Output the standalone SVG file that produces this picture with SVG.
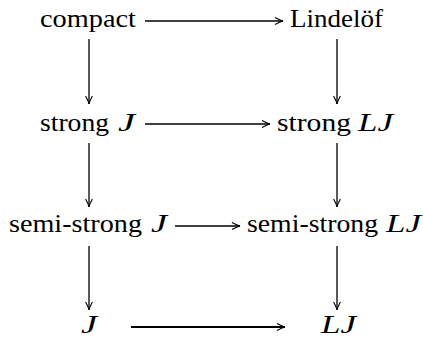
<svg xmlns="http://www.w3.org/2000/svg" width="423" height="338" viewBox="0 0 423 338">
  <style>
    text { font-family: "Liberation Serif", "Times New Roman", Times, serif; font-size: 26px; fill: #000; }
    .it { font-style: italic; }
    .edge { stroke: #000; stroke-width: 1.3; fill: none; marker-end: url(#arr); }
    .thick { stroke-width: 2; }
  </style>
  <defs>
    <marker id="arr" markerUnits="userSpaceOnUse" markerWidth="12" markerHeight="10" refX="0" refY="0" viewBox="-9 -5 12 10" orient="auto" overflow="visible">
      <path d="M-8,-3.4 Q-3,-0.6 0,0 Q-3,0.6 -8,3.4" fill="none" stroke="#000" stroke-width="1.1"/>
    </marker>
  </defs>
  <g id="connectors">
    <line class="edge" x1="145" y1="21" x2="283" y2="21"/>
    <line class="edge" x1="145" y1="124" x2="270" y2="124"/>
    <line class="edge" x1="175" y1="226" x2="240" y2="226"/>
    <line class="edge thick" x1="131" y1="327" x2="285" y2="327"/>
    <line class="edge" x1="89" y1="39" x2="89" y2="104"/>
    <line class="edge" x1="337" y1="39" x2="337" y2="104"/>
    <line class="edge" x1="89" y1="143" x2="89" y2="207"/>
    <line class="edge" x1="337" y1="143" x2="337" y2="207"/>
    <line class="edge" x1="89" y1="246" x2="89" y2="310"/>
    <line class="edge" x1="337" y1="246" x2="337" y2="310"/>
  </g>
  <g id="compact">
    <text x="40" y="27" textLength="96" lengthAdjust="spacingAndGlyphs">compact</text>
  </g>
  <g id="lindelof">
    <text x="290" y="27" textLength="93" lengthAdjust="spacingAndGlyphs">Lindelöf</text>
  </g>
  <g id="strongJ">
    <text x="40" y="131" textLength="69" lengthAdjust="spacingAndGlyphs">strong</text>
    <text class="it" x="118" y="131" textLength="17" lengthAdjust="spacingAndGlyphs">J</text>
  </g>
  <g id="strongLJ">
    <text x="277" y="131" textLength="74" lengthAdjust="spacingAndGlyphs">strong</text>
    <text class="it" x="358" y="131" textLength="35" lengthAdjust="spacingAndGlyphs">LJ</text>
  </g>
  <g id="semistrongJ">
    <text x="9" y="232" textLength="133" lengthAdjust="spacingAndGlyphs">semi-strong</text>
    <text class="it" x="151" y="232" textLength="16" lengthAdjust="spacingAndGlyphs">J</text>
  </g>
  <g id="semistrongLJ">
    <text x="247" y="232" textLength="131" lengthAdjust="spacingAndGlyphs">semi-strong</text>
    <text class="it" x="386" y="232" textLength="35" lengthAdjust="spacingAndGlyphs">LJ</text>
  </g>
  <g id="J">
    <text class="it" x="81" y="333" textLength="16" lengthAdjust="spacingAndGlyphs">J</text>
  </g>
  <g id="LJ">
    <text class="it" x="321" y="333" textLength="35" lengthAdjust="spacingAndGlyphs">LJ</text>
  </g>
</svg>
